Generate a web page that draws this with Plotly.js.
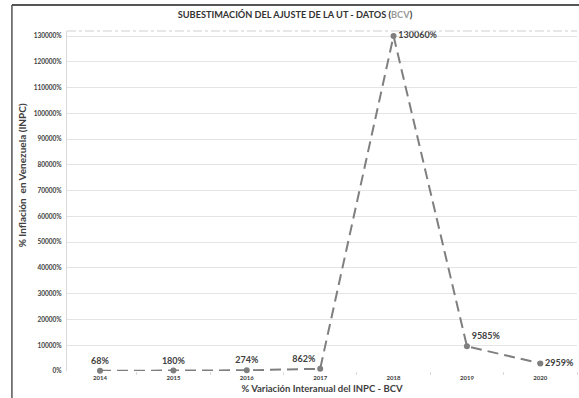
<!DOCTYPE html>
<html>
<head>
<meta charset="utf-8">
<script src="https://cdn.plot.ly/plotly-3.0.1.min.js"></script>
<style>
  html, body { margin: 0; padding: 0; background: #fff; }
  #chart { width: 579px; height: 398px; }
</style>
</head>
<body>
<div id="chart"></div>
<script>
// Inflación anual según el INPC del BCV
const years = ['2014', '2015', '2016', '2017', '2018', '2019', '2020'];
const inflation = [68, 180, 274, 862, 130060, 9585, 2959];
const labelPositions = ['top center', 'top center', 'top center', 'top left',
                        'middle right', 'top right', 'middle right'];

const labels = inflation.map(v => v + '%');

const fontFam = 'Lato, "Liberation Sans", sans-serif';

const trace = {
  x: years,
  y: inflation,
  type: 'scatter',
  mode: 'lines+markers+text',
  text: labels,
  textposition: labelPositions,
  textfont: { family: fontFam, size: 9, color: '#404040', weight: 'bold' },
  line: { color: '#7f7f7f', width: 2, dash: '11px,6px' },
  marker: { color: '#7f7f7f', size: 6 },
  cliponaxis: false,
  hoverinfo: 'x+y'
};

const layout = {
  width: 579,
  height: 398,
  margin: { l: 67, r: 2, t: 31, b: 27 },
  paper_bgcolor: '#ffffff',
  plot_bgcolor: '#ffffff',
  showlegend: false,
  title: {
    text: '<b>SUBESTIMACIÓN DEL AJUSTE DE LA UT - DATOS (<span style="color:#9a9a9a">BCV</span>)</b>',
    font: { family: fontFam, size: 9.2, color: '#333333' },
    x: 0.447, xanchor: 'center', xref: 'paper',
    y: 0.962, yanchor: 'middle'
  },
  xaxis: {
    type: 'category',
    range: [-0.45, 6.5],
    showgrid: false,
    zeroline: false,
    showline: false,
    ticks: 'outside',
    tickson: 'boundaries',
    ticklen: 3,
    tickcolor: '#d9d9d9',
    ticklabelstandoff: 2,
    tickfont: { family: fontFam, size: 6, color: '#404040', weight: 'bold' },
    title: {
      text: '<b>% Variación Interanual del INPC - BCV</b>',
      font: { family: fontFam, size: 9.5, color: '#404040' },
      standoff: 5
    }
  },
  yaxis: {
    range: [0, 132000],
    dtick: 10000,
    tickformat: 'd',
    ticksuffix: '%',
    showgrid: true,
    gridcolor: '#e4e4e4',
    gridwidth: 1,
    zeroline: false,
    showline: true,
    linecolor: '#d9d9d9',
    linewidth: 1,
    ticks: '',
    ticklabelstandoff: 3,
    tickfont: { family: fontFam, size: 6.5, color: '#404040', weight: 'bold' }
  },
  annotations: [
    {
      text: '<b>% Inflación  en Venezuela (INPC)</b>',
      xref: 'paper', yref: 'paper',
      x: -0.088, y: 0.576,
      xanchor: 'center', yanchor: 'middle',
      textangle: -90,
      showarrow: false,
      font: { family: fontFam, size: 10, color: '#404040' }
    }
  ],
  shapes: [
    // Marco exterior del gráfico
    { type: 'line', xref: 'paper', yref: 'paper', x0: -0.108, x1: 1.01, y0: 1.0765, y1: 1.0765,
      line: { color: '#555555', width: 2 } },
    { type: 'line', xref: 'paper', yref: 'paper', x0: -0.108, x1: -0.108, y0: 1.0765, y1: -0.08,
      line: { color: '#555555', width: 1.5 } },
    // Borde superior del área de trazado
    { type: 'line', xref: 'paper', yref: 'paper', x0: 0, x1: 1, y0: 1, y1: 1,
      line: { color: '#cfcfcf', width: 1, dash: 'dashdot' } }
  ]
};

Plotly.newPlot('chart', [trace], layout, { displayModeBar: false, staticPlot: true });
</script>
</body>
</html>
